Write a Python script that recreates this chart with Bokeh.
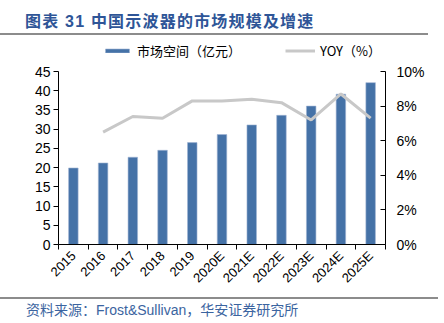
import math
from bokeh.plotting import figure
from bokeh.layouts import column
from bokeh.models import (Range1d, LinearAxis, FixedTicker, Div,
                          Legend, LegendItem, PrintfTickFormatter)
from bokeh.embed import file_html
from bokeh.resources import INLINE

# ---- data ----
years = ["2015", "2016", "2017", "2018", "2019", "2020E", "2021E", "2022E", "2023E", "2024E", "2025E"]
market_size = [19.9, 21.2, 22.7, 24.5, 26.5, 28.6, 31.1, 33.6, 36.0, 39.1, 42.1]   # 亿元
yoy_years = years[1:]
yoy = [6.5, 7.4, 7.3, 8.3, 8.3, 8.4, 8.2, 7.2, 8.7, 7.3]                           # %
left_ticks = [0, 5, 10, 15, 20, 25, 30, 35, 40, 45]
right_ticks = [0, 2, 4, 6, 8, 10]
title_text = "图表 31 中国示波器的市场规模及增速"
source_text = "资料来源：Frost&Sullivan，华安证券研究所"
legend_labels = ["市场空间（亿元）", "YOY（%）"]

BAR = "#4572A7"
LINE = "#c8c8c8"
TITLE_BLUE = "#2e5597"
SRC_BLUE = "#3b64a0"

idx = list(range(len(years)))
yoy_idx = [years.index(y) for y in yoy_years]

# geometry: the axes span 173 px, the frame is taller so the legend fits inside it
AXIS_PX = 173
FRAME_PX = 204
left_max = left_ticks[-1]
right_max = right_ticks[-1]

title_div = Div(width=444, height=36, margin=(0, 0, 0, 0), text=(
    '<div style="position:relative;width:444px;height:36px;">'
    '<div style="position:absolute;left:25px;top:11px;line-height:22px;white-space:nowrap;letter-spacing:1.2px;'
    "font-family:'Liberation Sans','Noto Sans CJK SC';font-weight:bold;font-size:16px;color:%s;\">%s</div>"
    '<div style="position:absolute;left:0;top:33px;width:428px;height:2px;background:#8c8c8c;"></div>'
    '</div>') % (TITLE_BLUE, title_text))

p = figure(width=444, height=261, output_backend="svg", toolbar_location=None,
           x_range=Range1d(-0.5, len(years) - 0.5),
           y_range=Range1d(0, left_max * FRAME_PX / AXIS_PX),
           min_border_left=58, min_border_right=59, min_border_top=4, min_border_bottom=53,
           margin=(0, 0, 0, 0))
p.extra_y_ranges = {"yoy": Range1d(0, right_max * FRAME_PX / AXIS_PX)}
p.outline_line_color = None
p.xgrid.visible = False
p.ygrid.visible = False

bars = p.vbar(x=idx, top=market_size, width=0.32, fill_color=BAR,
              line_color="#9fb4d3", line_width=0.6)
line = p.line(x=yoy_idx, y=yoy, y_range_name="yoy", line_color=LINE, line_width=3)

# x axis
xa = p.xaxis[0]
xa.ticker = FixedTicker(ticks=idx, minor_ticks=[i - 0.5 for i in idx] + [len(years) - 0.5])
xa.major_label_overrides = {i: y for i, y in zip(idx, years)}
xa.major_tick_out = 0
xa.major_tick_in = 0
xa.minor_tick_out = 5
xa.minor_tick_in = 0
xa.minor_tick_line_color = "black"
xa.axis_line_color = "black"
xa.major_label_orientation = math.pi / 4
xa.major_label_text_font = "Liberation Sans"
xa.major_label_text_font_size = "13px"
xa.major_label_text_color = "black"
xa.major_label_standoff = 4

# left axis
ya = p.yaxis[0]
ya.ticker = FixedTicker(ticks=left_ticks)
ya.bounds = (0, left_max)
ya.major_tick_out = 5
ya.major_tick_in = 0
ya.minor_tick_line_color = None
ya.axis_line_color = "black"
ya.major_label_text_font = "Liberation Sans"
ya.major_label_text_font_size = "14px"
ya.major_label_text_color = "black"
ya.major_label_standoff = 3

# right axis
ra = LinearAxis(y_range_name="yoy", ticker=FixedTicker(ticks=right_ticks),
                formatter=PrintfTickFormatter(format="%d%%"), bounds=(0, right_max))
ra.major_tick_out = 0
ra.major_tick_in = 5
ra.minor_tick_line_color = None
ra.axis_line_color = "black"
ra.major_label_text_font = "Liberation Sans"
ra.major_label_text_font_size = "14px"
ra.major_label_text_color = "black"
ra.major_label_standoff = 11
p.add_layout(ra, "right")

# legend at the top of the frame
legend = Legend(items=[LegendItem(label=legend_labels[0], renderers=[bars]),
                       LegendItem(label=legend_labels[1], renderers=[line])],
                location=(44, 184), orientation="horizontal", spacing=44,
                glyph_width=30, glyph_height=5, label_height=12, label_standoff=5,
                padding=0, margin=0, border_line_color=None, background_fill_alpha=0,
                label_text_font="Noto Sans CJK SC", label_text_font_size="13px",
                label_text_color="black")
p.add_layout(legend, "center")

source_div = Div(width=444, height=26, margin=(0, 0, 0, 0), text=(
    '<div style="position:relative;width:444px;height:26px;">'
    '<div style="position:absolute;left:0;top:0;width:438px;height:2px;background:#8c8c8c;"></div>'
    '<div style="position:absolute;left:26px;top:3px;line-height:20px;white-space:nowrap;'
    "font-family:'Liberation Sans','Noto Sans CJK SC';font-size:14px;color:%s;\">%s</div>"
    '</div>') % (SRC_BLUE, source_text))

layout = column(title_div, p, source_div, spacing=0, margin=(0, 0, 0, 0))

open("out.html", "w").write(file_html(layout, INLINE))
